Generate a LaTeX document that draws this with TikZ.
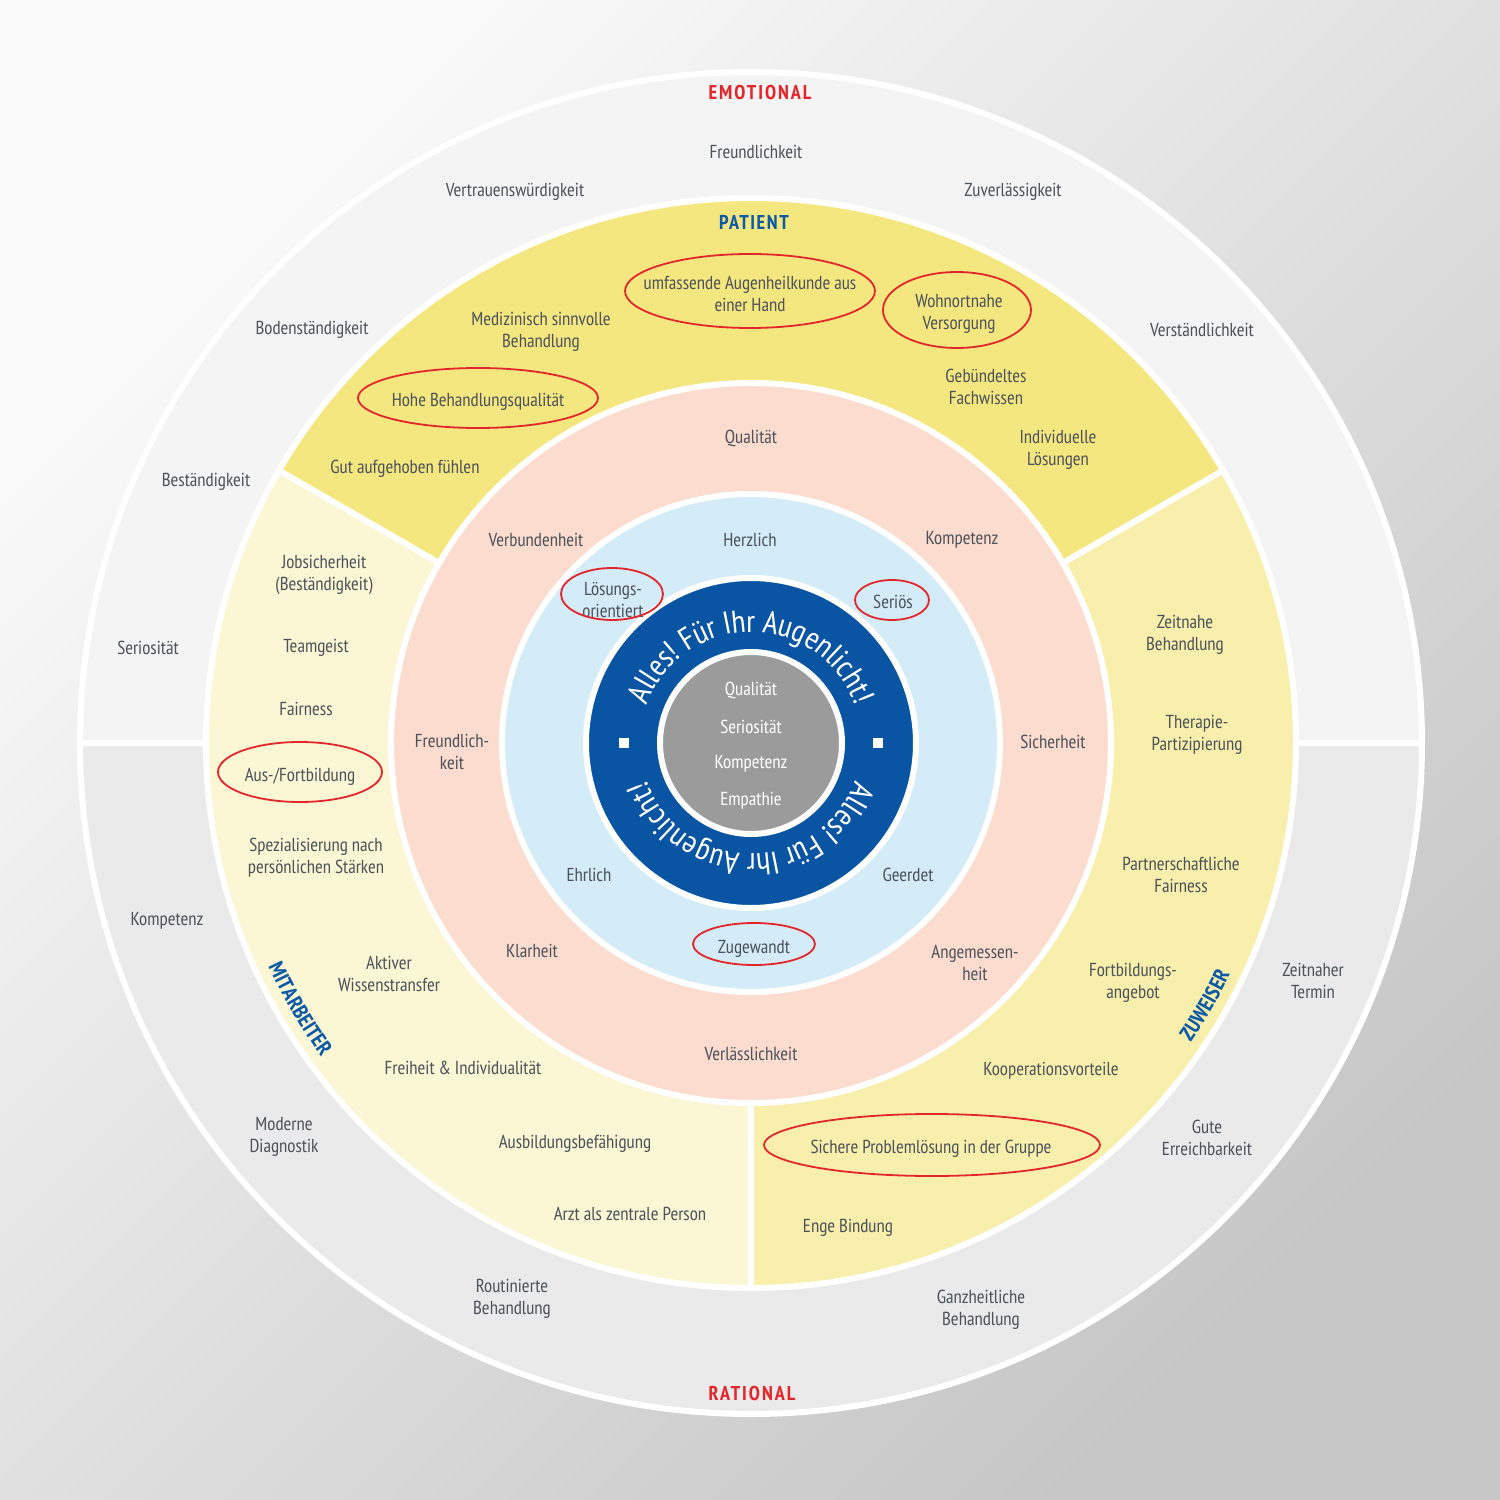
\documentclass[tikz,border=0pt]{standalone}
\usepackage{fontspec}
\IfFontExistsTF{PT Sans Narrow}{\setmainfont{PT Sans Narrow}}{\setmainfont{Liberation Sans}[FakeStretch=0.8]}
\usetikzlibrary{decorations.text}
\definecolor{txt}{HTML}{4D535B}
\definecolor{outU}{HTML}{F4F4F4}
\definecolor{outL}{HTML}{EAEAEA}
\definecolor{patY}{HTML}{F5E780}
\definecolor{mitY}{HTML}{FBF6D4}
\definecolor{zuwY}{HTML}{F8EFAC}
\definecolor{pinkR}{HTML}{FBDCCF}
\definecolor{lblue}{HTML}{D4EBF8}
\definecolor{dblue}{HTML}{0A55A3}
\definecolor{grayC}{HTML}{9B9B9B}
\definecolor{redL}{HTML}{E3262B}
\definecolor{blueL}{HTML}{0C5AA6}
\definecolor{bgA}{HTML}{FAFAFA}
\definecolor{bgB}{HTML}{C6C6C6}
\newcommand\ringfont{\fontsize{15.8}{15.8}\selectfont\color{white}}
\newcommand\curvfont{\fontsize{10.6}{10.6}\selectfont\bfseries\color{blueL}}
\begin{document}
\begin{tikzpicture}[x=0.5pt,y=0.5pt,
  lbl/.style={font=\fontsize{9.4}{11}\selectfont, text=txt, align=center, inner sep=0pt},
  wlbl/.style={font=\fontsize{9.4}{11}\selectfont, text=white, align=center, inner sep=0pt},
  redhead/.style={font=\fontsize{10}{10}\selectfont\bfseries\addfontfeature{LetterSpace=10}, text=redL, inner sep=0pt},
  bluehead/.style={font=\fontsize{10}{10}\selectfont\bfseries\addfontfeature{LetterSpace=8}, text=blueL, inner sep=0pt},
  ell/.style={draw=redL, line width=0.9pt},
  sep/.style={white, line width=3pt},
  sq/.style={fill=white, minimum size=5pt, inner sep=0pt}]
\useasboundingbox (-751,-757) rectangle (749,743);
\shade[top color=bgA, bottom color=bgB, shading angle=45] (-751,-757) rectangle (749,743);
% outer ring
\fill[outU] (0,0) -- (671,0) arc[start angle=0,end angle=180,radius=671] -- cycle;
\fill[outL] (0,0) -- (-671,0) arc[start angle=180,end angle=360,radius=671] -- cycle;
\draw[sep] (0,0) circle[radius=671];
\draw[sep] (-671,0) -- (671,0);
% yellow ring
\fill[patY] (0,0) -- (30:545) arc[start angle=30,end angle=150,radius=545] -- cycle;
\fill[mitY] (0,0) -- (150:545) arc[start angle=150,end angle=270,radius=545] -- cycle;
\fill[zuwY] (0,0) -- (270:545) arc[start angle=270,end angle=390,radius=545] -- cycle;
\draw[sep] (0,0) circle[radius=545];
\draw[sep] (0,0) -- (30:545) (0,0) -- (150:545) (0,0) -- (270:545);
% pink, light blue, dark blue, gray
\fill[pinkR] (0,0) circle[radius=360];
\draw[sep] (0,0) circle[radius=360];
\fill[lblue] (0,0) circle[radius=249];
\draw[sep] (0,0) circle[radius=249];
\fill[dblue] (0,0) circle[radius=165];
\draw[sep] (0,0) circle[radius=165];
\fill[grayC] (0,0) circle[radius=91];
\draw[sep] (0,0) circle[radius=91];
% ring text
\path[decorate, decoration={text along path, text align=center, text={|\ringfont|Alles! Für Ihr Augenlicht!}}]
  (180:111) arc[start angle=180,end angle=0,radius=111];
\path[decorate, decoration={text along path, text align=center, text={|\ringfont|Alles! Für Ihr Augenlicht!}}]
  (0:111) arc[start angle=0,end angle=-180,radius=111];
\node[sq] (sqL) at (-127,0) {};
\node[sq] (sqR) at (127,0) {};
% curved segment labels
\path[decorate, decoration={text along path, text align=center, text={|\curvfont|MITARBEITER}}]
  (190:532) arc[start angle=190,end angle=231,radius=532];
\path[decorate, decoration={text along path, text align=center, text={|\curvfont|ZUWEISER}}]
  (-50:532) arc[start angle=-50,end angle=-10,radius=532];
% headings
\node[redhead] (emo) at (9,650) {EMOTIONAL};
\node[redhead] (rat) at (1,-650) {RATIONAL};
\node[bluehead] (pat) at (3,521) {PATIENT};
% outer ring texts
\node[lbl] (o1) at (5,591) {Freundlichkeit};
\node[lbl] (o2) at (-236,551) {Vertrauenswürdigkeit};
\node[lbl] (o3) at (262,551) {Zuverlässigkeit};
\node[lbl] (o4) at (-439,413) {Bodenständigkeit};
\node[lbl] (o5) at (451,413) {Verständlichkeit};
\node[lbl] (o6) at (-545,261) {Beständigkeit};
\node[lbl] (o7) at (-603,95) {Seriosität};
\node[lbl] (o8) at (-584,-178) {Kompetenz};
\node[lbl] (o9) at (562,-238) {Zeitnaher\\Termin};
\node[lbl] (o10) at (-467,-394) {Moderne\\Diagnostik};
\node[lbl] (o11) at (456,-395) {Gute\\Erreichbarkeit};
\node[lbl] (o12) at (-239,-556) {Routinierte\\Behandlung};
\node[lbl] (o13) at (230,-567) {Ganzheitliche\\Behandlung};
% patient
\node[lbl] (p1) at (-1,449) {umfassende Augenheilkunde aus\\einer Hand};
\node[lbl] (p2) at (208,429) {Wohnortnahe\\Versorgung};
\node[lbl] (p3) at (-210,411) {Medizinisch sinnvolle\\Behandlung};
\node[lbl] (p4) at (-273,341) {Hohe Behandlungsqualität};
\node[lbl] (p5) at (235,356) {Gebündeltes\\Fachwissen};
\node[lbl] (p6) at (-346,274) {Gut aufgehoben fühlen};
\node[lbl] (p7) at (307,293) {Individuelle\\Lösungen};
% mitarbeiter
\node[lbl] (m1) at (-427,168) {Jobsicherheit\\(Beständigkeit)};
\node[lbl] (m2) at (-435,95) {Teamgeist};
\node[lbl] (m3) at (-445,34) {Fairness};
\node[lbl] (m4) at (-451,-34) {Aus-/Fortbildung};
\node[lbl] (m5) at (-435,-115) {Spezialisierung nach\\persönlichen Stärken};
\node[lbl] (m6) at (-362,-231) {Aktiver\\Wissenstransfer};
\node[lbl] (m7) at (-288,-325) {Freiheit \& Individualität};
\node[lbl] (m8) at (-176,-401) {Ausbildungsbefähigung};
\node[lbl] (m9) at (-121,-471) {Arzt als zentrale Person};
% zuweiser
\node[lbl] (z1) at (434,108) {Zeitnahe\\Behandlung};
\node[lbl] (z2) at (446,8) {Therapie-\\Partizipierung};
\node[lbl] (z3) at (430,-132) {Partnerschaftliche\\Fairness};
\node[lbl] (z4) at (382,-240) {Fortbildungs-\\angebot};
\node[lbl] (z5) at (300,-328) {Kooperationsvorteile};
\node[lbl] (z6) at (180,-406) {Sichere Problemlösung in der Gruppe};
\node[lbl] (z7) at (97,-485) {Enge Bindung};
% pink
\node[lbl] (k1) at (0,305) {Qualität};
\node[lbl] (k2) at (-215,203) {Verbundenheit};
\node[lbl] (k3) at (211,203) {Kompetenz};
\node[lbl] (k4) at (-299,-9) {Freundlich-\\keit};
\node[lbl] (k5) at (302,1) {Sicherheit};
\node[lbl] (k6) at (-219,-208) {Klarheit};
\node[lbl] (k7) at (224,-220) {Angemessen-\\heit};
\node[lbl] (k8) at (0,-311) {Verlässlichkeit};
% light blue
\node[lbl] (b1) at (-1,203) {Herzlich};
\node[lbl] (b2) at (-138,143) {Lösungs-\\orientiert};
\node[lbl] (b3) at (142,141) {Seriös};
\node[lbl] (b4) at (-162,-132) {Ehrlich};
\node[lbl] (b5) at (157,-132) {Geerdet};
\node[lbl] (b6) at (3,-206) {Zugewandt};
% gray centre
\node[wlbl] (g1) at (0,53) {Qualität};
\node[wlbl] (g2) at (0,16) {Seriosität};
\node[wlbl] (g3) at (0,-21) {Kompetenz};
\node[wlbl] (g4) at (0,-58) {Empathie};
% red ellipses
\draw[ell] (-1,452) ellipse[x radius=125,y radius=37];
\draw[ell] (206,433) ellipse[x radius=74,y radius=38];
\draw[ell] (-273,345) ellipse[x radius=120,y radius=30];
\draw[ell] (-451,-29) ellipse[x radius=82,y radius=30];
\draw[ell] (181,-402) ellipse[x radius=168,y radius=31];
\draw[ell] (-139,149) ellipse[x radius=51,y radius=26];
\draw[ell] (141,143) ellipse[x radius=37,y radius=20];
\draw[ell] (3,-201) ellipse[x radius=61,y radius=21];
\end{tikzpicture}
\end{document}
